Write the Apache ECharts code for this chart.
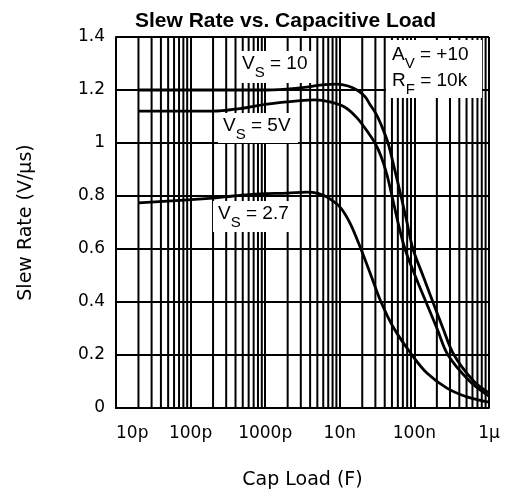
<!DOCTYPE html>
<html>
<head>
<meta charset="utf-8">
<script src="https://cdn.jsdelivr.net/npm/echarts/dist/echarts.min.js"></script>
<style>
  html, body { margin: 0; padding: 0; background: #fff; }
  #chart { width: 506px; height: 495px; }
</style>
</head>
<body>
<div id="chart"></div>
<script>
// ---- data (capacitance in farads, slew rate in V/us) ----
const capVs10 = [2e-11, 2e-10, 1.06e-9, 2.93e-9, 5.43e-9, 9.17e-9, 1.29e-8, 1.7e-8, 2.18e-8, 2.54e-8, 3.06e-8, 3.57e-8, 4.43e-8, 5.33e-8, 6.61e-8, 7.96e-8, 9.57e-8, 1.3e-7, 1.77e-7, 2.42e-7, 3.4e-7, 6.3e-7, 1e-6];
const srVs10  = [1.20, 1.20, 1.20, 1.208, 1.218, 1.222, 1.215, 1.20, 1.175, 1.145, 1.11, 1.07, 1.00, 0.91, 0.80, 0.70, 0.60, 0.50, 0.40, 0.30, 0.20, 0.10, 0.057];

const capVs5 = [2e-11, 2e-10, 4.6e-10, 1.06e-9, 2.93e-9, 4.65e-9, 7.39e-9, 1.17e-8, 1.7e-8, 2.39e-8, 2.96e-8, 3.57e-8, 4.29e-8, 5.01e-8, 6.03e-8, 7.48e-8, 1.02e-7, 1.43e-7, 2.01e-7, 2.82e-7, 5.56e-7, 1e-6];
const srVs5  = [1.12, 1.12, 1.13, 1.147, 1.16, 1.163, 1.155, 1.135, 1.095, 1.04, 1.00, 0.95, 0.88, 0.80, 0.70, 0.60, 0.50, 0.40, 0.30, 0.20, 0.10, 0.045];

const capVs27 = [2e-11, 2e-10, 3.7e-10, 8.5e-10, 1.96e-9, 3.63e-9, 5.1e-9, 6.73e-9, 1e-8, 1.37e-8, 1.92e-8, 2.62e-8, 3.57e-8, 5.33e-8, 9.29e-8, 1.47e-7, 2.73e-7, 5.07e-7, 1e-6];
const srVs27  = [0.774, 0.792, 0.80, 0.808, 0.811, 0.815, 0.81, 0.796, 0.759, 0.698, 0.60, 0.50, 0.40, 0.30, 0.20, 0.132, 0.075, 0.042, 0.022];

const xTickLabels = ["10p", "100p", "1000p", "10n", "100n", "1\u00b5"];
const yTicks = [0, 0.2, 0.4, 0.6, 0.8, 1, 1.2, 1.4];
const decadeExps = [-11, -10, -9, -8, -7];
const minorMultipliers = [2, 3, 4, 5, 6, 7, 8, 9];

function pairs(xs, ys) { return xs.map(function (x, i) { return [x, ys[i]]; }); }

const yMin = yTicks[0], yMax = yTicks[yTicks.length - 1];
// minor (2..9 per decade) vertical grid lines as broken line segments
const minorGridData = [];
decadeExps.forEach(function (e) {
  minorMultipliers.forEach(function (m) {
    const v = m * Math.pow(10, e);
    minorGridData.push([v, yMin], [v, yMax], [v, '-']);
  });
});

const chart = echarts.init(document.getElementById('chart'), null, { renderer: 'canvas' });

function curve(name, xs, ys) {
  return {
    name: name,
    type: 'line',
    data: pairs(xs, ys),
    showSymbol: false,
    smooth: 0.35,
    lineStyle: { color: '#000', width: 2.8 },
    itemStyle: { color: '#000' },
    emphasis: { disabled: true },
    z: 5
  };
}

const TXT = 'Liberation Sans';
const mainRich = { fontSize: 19, fontFamily: TXT, fill: '#000' };
const subRich = { fontSize: 15, fontFamily: TXT, fill: '#000', padding: [18, 0, 0, 0] };

function note(x, y, text) {
  return {
    type: 'text', x: x, y: y, z: 101,
    style: { text: text, align: 'left', verticalAlign: 'middle', rich: { m: mainRich, s: subRich } }
  };
}
function box(x, y, w, h) {
  return { type: 'rect', z: 100, shape: { x: x, y: y, width: w, height: h }, style: { fill: '#fff' } };
}

chart.setOption({
  animation: false,
  backgroundColor: '#fff',
  title: {
    text: 'Slew Rate vs. Capacitive Load',
    left: 130, top: 6,
    textStyle: { fontFamily: TXT, fontWeight: 'bold', fontSize: 21, color: '#000' }
  },
  grid: { left: 116, top: 37, right: 17, bottom: 87 },
  xAxis: {
    type: 'log', logBase: 10, min: 1e-11, max: 1e-6,
    name: 'Cap Load (F)', nameLocation: 'middle', nameGap: 63,
    nameTextStyle: { fontFamily: 'DejaVu Sans', fontSize: 19, color: '#000' },
    axisLine: { show: true, lineStyle: { color: '#000', width: 2 } },
    axisTick: { show: false },
    splitLine: { show: true, lineStyle: { color: '#000', width: 2 } },
    axisLabel: {
      color: '#000', fontFamily: 'DejaVu Sans', fontSize: 17, margin: 17,
      alignMinLabel: 'left', alignMaxLabel: 'right',
      formatter: function (v) {
        const i = Math.round(Math.log10(v)) + 11;
        return xTickLabels[i] || '';
      }
    }
  },
  yAxis: {
    type: 'value', min: yMin, max: yMax, interval: 0.2,
    name: 'Slew Rate (V/\u00b5s)', nameLocation: 'middle', nameGap: 80,
    nameTextStyle: { fontFamily: 'DejaVu Sans', fontSize: 19, color: '#000' },
    axisLine: { show: true, lineStyle: { color: '#000', width: 2 } },
    axisTick: { show: false },
    splitLine: { show: true, lineStyle: { color: '#000', width: 2 } },
    axisLabel: { color: '#000', fontFamily: 'DejaVu Sans', fontSize: 17, margin: 11 }
  },
  series: [
    {
      name: 'minor grid', type: 'line', data: minorGridData,
      showSymbol: false, connectNulls: false, silent: true,
      lineStyle: { color: '#000', width: 2 }, itemStyle: { color: '#000' },
      emphasis: { disabled: true }, z: 1
    },
    curve('VS = 10', capVs10, srVs10),
    curve('VS = 5V', capVs5, srVs5),
    curve('VS = 2.7', capVs27, srVs27)
  ],
  graphic: [
    box(238, 51, 78, 32),
    note(242, 64, '{m|V}{s|S}{m| = 10}'),
    box(218, 113, 80, 30),
    note(223, 126, '{m|V}{s|S}{m| = 5V}'),
    box(213, 201, 86, 31),
    note(218, 214, '{m|V}{s|S}{m| = 2.7}'),
    box(386, 40, 96, 58),
    note(392, 55, '{m|A}{s|V}{m| = +10}'),
    note(392, 81, '{m|R}{s|F}{m| = 10k}')
  ]
});
</script>
</body>
</html>
